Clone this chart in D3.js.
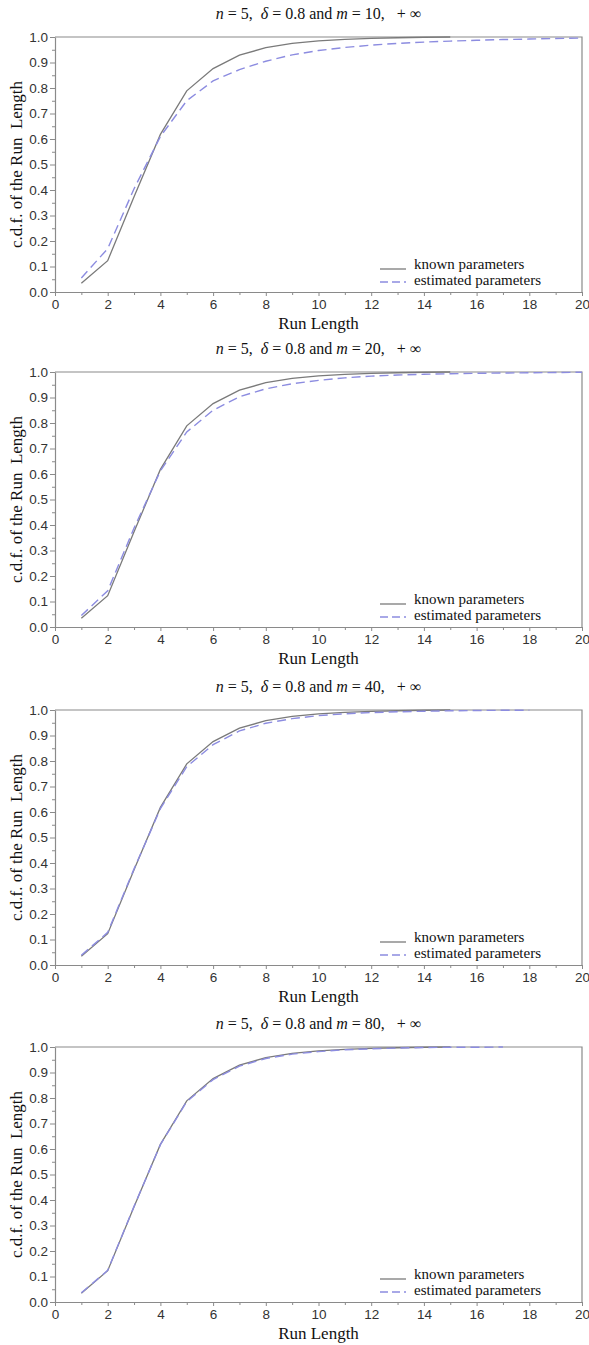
<!DOCTYPE html>
<html>
<head>
<meta charset="utf-8">
<script src="https://cdn.jsdelivr.net/npm/d3@7"></script>
<style>
  body { margin: 0; background: #fff; }
  text { white-space: pre; }
  .tick text { font-family: "Liberation Sans", Arial, sans-serif; font-size: 13.5px; fill: #333; }
</style>
</head>
<body>
<div id="viz-container"></div>
<script>
// run length values and c.d.f. curves
const runLength = d3.range(1, 21);
const knownCdf = [0.034, 0.123, 0.374, 0.618, 0.789, 0.876, 0.929, 0.958, 0.975, 0.985,
                  0.991, 0.995, 0.997, 0.999, 1.0];
const estM10 = [0.055, 0.170, 0.405, 0.610, 0.750, 0.828, 0.872, 0.905, 0.930, 0.947,
                0.959, 0.968, 0.975, 0.980, 0.984, 0.987, 0.990, 0.992, 0.994, 0.996];
const estM20 = [0.045, 0.142, 0.388, 0.612, 0.765, 0.850, 0.903, 0.934, 0.954, 0.967,
                0.977, 0.984, 0.988, 0.991, 0.993, 0.995, 0.996, 0.997, 0.998, 0.999];
const estM40 = [0.038, 0.128, 0.377, 0.613, 0.778, 0.864, 0.918, 0.948, 0.966, 0.978,
                0.985, 0.990, 0.993, 0.995, 0.997, 0.998, 0.999, 0.999];
const estM80 = [0.036, 0.124, 0.375, 0.617, 0.786, 0.872, 0.925, 0.955, 0.972, 0.982,
                0.989, 0.993, 0.996, 0.998, 0.999, 0.999, 1.0];
const mValues = [10, 20, 40, 80];
const estimated = [estM10, estM20, estM40, estM80];
const xTicks = d3.range(0, 21, 2);
const yTicks = d3.range(0, 1.01, 0.1);

const width = 589, height = 1345;
const plotLeft = 55, plotRight = 582, plotH = 255;
const panelTop = [37, 372, 710, 1047];

const svg = d3.select("#viz-container").append("svg")
  .attr("width", width)
  .attr("height", height);

const x = d3.scaleLinear().domain([0, 20]).range([plotLeft, plotRight]);
const axisColor = "#8a8a8a";
const serif = "'Liberation Serif', 'Times New Roman', serif";

mValues.forEach((m, i) => {
  const top = panelTop[i];
  const y = d3.scaleLinear().domain([0, 1]).range([top + plotH, top]);
  const g = svg.append("g");

  // frame (top and right)
  g.append("path")
    .attr("d", `M${plotLeft},${top}H${plotRight}V${top + plotH}`)
    .attr("fill", "none")
    .attr("stroke", axisColor)
    .attr("stroke-width", 1.2);

  // minor ticks
  g.append("g")
    .attr("transform", `translate(0,${top + plotH})`)
    .call(d3.axisBottom(x).tickValues(d3.range(1, 20, 2)).tickSize(3).tickFormat(""))
    .call(a => a.select(".domain").remove())
    .call(a => a.selectAll("line").attr("stroke", axisColor));
  g.append("g")
    .attr("transform", `translate(${plotLeft},0)`)
    .call(d3.axisLeft(y).tickValues(d3.range(0.05, 1, 0.1)).tickSize(3).tickFormat(""))
    .call(a => a.select(".domain").remove())
    .call(a => a.selectAll("line").attr("stroke", axisColor));

  // major axes
  g.append("g")
    .attr("transform", `translate(0,${top + plotH})`)
    .call(d3.axisBottom(x).tickValues(xTicks).tickSize(4).tickSizeOuter(0).tickPadding(3).tickFormat(d3.format("d")))
    .call(a => a.select(".domain").attr("stroke", axisColor).attr("stroke-width", 1.2))
    .call(a => a.selectAll("line").attr("stroke", axisColor));
  g.append("g")
    .attr("transform", `translate(${plotLeft},0)`)
    .call(d3.axisLeft(y).tickValues(yTicks).tickSize(5).tickSizeOuter(0).tickPadding(2).tickFormat(d3.format(".1f")))
    .call(a => a.select(".domain").attr("stroke", axisColor).attr("stroke-width", 1.2))
    .call(a => a.selectAll("line").attr("stroke", axisColor));

  const line = d3.line()
    .x((d, j) => x(runLength[j]))
    .y(d => y(d));

  g.append("path")
    .datum(knownCdf)
    .attr("fill", "none")
    .attr("stroke", "#7a7a7a")
    .attr("stroke-width", 1.3)
    .attr("d", line);

  g.append("path")
    .datum(estimated[i])
    .attr("fill", "none")
    .attr("stroke", "#8c8ce0")
    .attr("stroke-width", 1.4)
    .attr("stroke-dasharray", "9,5")
    .attr("d", line);

  // title
  const t = g.append("text")
    .attr("x", (plotLeft + plotRight) / 2)
    .attr("y", top - 18)
    .attr("text-anchor", "middle")
    .attr("font-family", serif)
    .attr("font-size", 16)
    .attr("fill", "#111");
  t.append("tspan").attr("font-style", "italic").text("n");
  t.append("tspan").text(" = 5,  ");
  t.append("tspan").attr("font-style", "italic").text("δ");
  t.append("tspan").text(" = 0.8 and ");
  t.append("tspan").attr("font-style", "italic").text("m");
  t.append("tspan").text(` = ${m},   + ∞`);

  // axis labels
  g.append("text")
    .attr("transform", `translate(22,${top + plotH / 2}) rotate(-90)`)
    .attr("text-anchor", "middle")
    .attr("font-family", serif)
    .attr("font-size", 17)
    .attr("fill", "#111")
    .text("c.d.f. of the Run  Length");
  g.append("text")
    .attr("x", (plotLeft + plotRight) / 2)
    .attr("y", top + plotH + 37)
    .attr("text-anchor", "middle")
    .attr("font-family", serif)
    .attr("font-size", 17)
    .attr("fill", "#111")
    .text("Run Length");

  // legend
  const lg = g.append("g").attr("transform", `translate(380,${top + plotH - 23})`);
  lg.append("line").attr("x1", 0).attr("x2", 26).attr("y1", 0).attr("y2", 0)
    .attr("stroke", "#7a7a7a").attr("stroke-width", 1.3);
  lg.append("line").attr("x1", 0).attr("x2", 26).attr("y1", 13).attr("y2", 13)
    .attr("stroke", "#8c8ce0").attr("stroke-width", 1.4).attr("stroke-dasharray", "8,4");
  lg.append("text").attr("x", 34).attr("y", 0)
    .attr("font-family", serif).attr("font-size", 15).attr("fill", "#111")
    .text("known parameters");
  lg.append("text").attr("x", 34).attr("y", 16)
    .attr("font-family", serif).attr("font-size", 15).attr("fill", "#111")
    .text("estimated parameters");
});
</script>
</body>
</html>
